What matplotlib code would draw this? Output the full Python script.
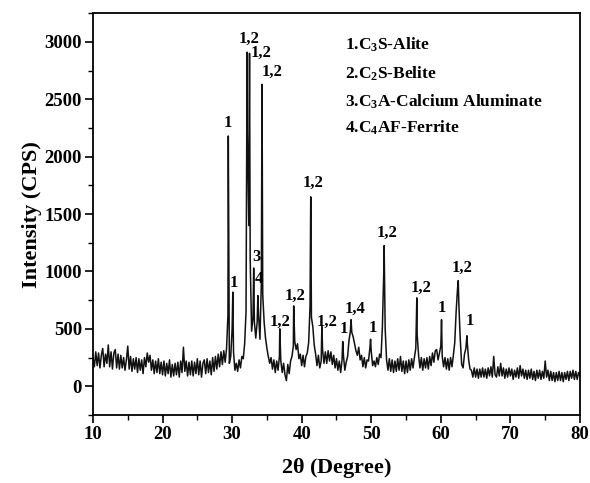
import numpy as np
import matplotlib
matplotlib.use("Agg")
from matplotlib import pyplot as plt
from matplotlib.ticker import MultipleLocator

# background counts, one value every 0.2 deg from 10 to 80
bg_start = 10.0
bg_step = 0.2
background = [
    250, 170, 300, 180, 290, 160, 270, 330, 170, 280,   # 10
    200, 360, 170, 300, 150, 290, 320, 160, 280, 150,   # 12
    270, 160, 250, 140, 230, 350, 150, 260, 130, 240,   # 14
    150, 250, 120, 240, 140, 230, 110, 250, 170, 290,   # 16
    210, 270, 140, 230, 110, 220, 120, 240, 110, 210,   # 18
    100, 220, 90, 200, 110, 230, 80, 190, 90, 200,      # 20
    100, 210, 80, 220, 120, 340, 130, 220, 90, 210,     # 22
    100, 220, 90, 210, 110, 240, 100, 220, 80, 200,     # 24
    230, 110, 240, 120, 220, 100, 250, 130, 260, 150,   # 26
    280, 170, 300, 190, 310, 210, 330, 620, 200, 260,   # 28
    500, 300, 140, 200, 130, 230, 160, 260, 240, 370,   # 30
    650, 2200, 1400, 1100, 480, 600, 560, 420, 560, 620,  # 32
    410, 900, 800, 560, 420, 330, 260, 200, 250, 150,   # 34
    230, 120, 220, 140, 260, 220, 120, 200, 100, 50,    # 36
    190, 110, 220, 260, 350, 390, 320, 370, 240, 280,   # 38
    180, 270, 170, 260, 290, 380, 700, 600, 520, 360,   # 40
    280, 180, 270, 160, 220, 320, 200, 300, 200, 310,   # 42
    220, 300, 190, 270, 160, 240, 140, 220, 120, 230,   # 44
    270, 140, 210, 260, 400, 480, 470, 430, 370, 310,   # 46
    270, 340, 230, 270, 170, 250, 160, 230, 220, 330,   # 48
    300, 180, 220, 170, 250, 190, 280, 250, 520, 1000,  # 50
    500, 230, 140, 240, 130, 230, 120, 220, 130, 240,   # 52
    140, 260, 130, 220, 110, 220, 120, 230, 140, 240,   # 54
    160, 250, 330, 450, 270, 160, 250, 140, 240, 160,   # 56
    250, 150, 260, 180, 290, 210, 310, 320, 230, 290,   # 58
    350, 260, 170, 250, 150, 240, 140, 250, 170, 270,   # 60
    380, 650, 850, 700, 400, 190, 160, 280, 330, 380,   # 62
    230, 150, 140, 80, 160, 80, 150, 70, 150, 80,       # 64
    160, 80, 150, 70, 160, 90, 170, 80, 260, 100,       # 66
    80, 170, 90, 200, 90, 160, 70, 150, 80, 160,        # 68
    90, 150, 60, 140, 80, 160, 70, 180, 90, 150,        # 70
    70, 140, 60, 140, 70, 150, 60, 130, 50, 140,        # 72
    70, 140, 60, 130, 70, 220, 80, 140, 50, 130,        # 74
    50, 120, 40, 120, 50, 130, 50, 120, 40, 120,        # 76
    60, 130, 50, 130, 70, 140, 60, 130, 60, 120,        # 78
    90,                                                 # 80
]

# peak tops
peak_2theta = [29.45, 30.1, 32.15, 32.5, 33.1, 33.7, 34.3, 36.85, 38.85, 41.3,
               42.9, 45.9, 47.1, 49.9, 51.85, 56.55, 60.1, 62.5, 63.75]
peak_cps = [2180, 820, 2910, 2900, 1030, 790, 2630, 500, 700, 1650,
            520, 390, 580, 410, 1225, 770, 580, 920, 440]

# phase labels: text, x, y
label_text = ['1', '1', '1,2', '1,2', '1,2', '3', '4', '1,2', '1,2', '1,2',
              '1,2', '1', '1,4', '1', '1,2', '1,2', '1', '1,2', '1']
label_x = [29.4, 30.2, 32.4, 34.1, 35.7, 33.5, 33.8, 36.9, 39.0, 41.65,
           43.6, 46.1, 47.7, 50.2, 52.3, 57.2, 60.2, 63.0, 64.2]
label_y = [2290, 900, 3030, 2900, 2735, 1130, 935, 565, 785, 1770,
           565, 495, 670, 510, 1335, 855, 685, 1030, 565]

legend_lines = [r'1.C$_3$S-Alite', r'2.C$_2$S-Belite',
                r'3.C$_3$A-Calcium Aluminate', r'4.C$_4$AF-Ferrite']
legend_y = [2970, 2725, 2475, 2250]

plt.rcParams['font.family'] = ['Liberation Serif', 'DejaVu Serif']
plt.rcParams['font.weight'] = 'bold'
plt.rcParams['mathtext.default'] = 'regular'

bg_x = bg_start + bg_step * np.arange(len(background))
x = np.concatenate([bg_x, peak_2theta])
y = np.concatenate([background, peak_cps])
order = np.argsort(x, kind='stable')

fig = plt.figure(figsize=(5.9, 4.83), dpi=100)
ax = fig.add_axes([0.1576, 0.1408, 0.8254, 0.832])
ax.plot(x[order], y[order], color='#111111', lw=1.1)

for t, lx, ly in zip(label_text, label_x, label_y):
    ax.text(lx, ly, t, ha='center', va='center', fontsize=12, fontweight='bold')

for t, ly in zip(legend_lines, legend_y):
    ax.text(46.2, ly, t, ha='left', va='center', fontsize=12.5, fontweight='bold')

ax.set_xlim(10, 80)
ax.set_ylim(-250, 3250)
ax.xaxis.set_major_locator(MultipleLocator(10))
ax.xaxis.set_minor_locator(MultipleLocator(5))
ax.yaxis.set_major_locator(MultipleLocator(500))
ax.yaxis.set_minor_locator(MultipleLocator(250))
ax.tick_params(which='major', direction='out', length=6, width=1.2, labelsize=13.5, pad=2)
ax.tick_params(which='minor', direction='out', length=3.5, width=1.0)
for s in ax.spines.values():
    s.set_linewidth(1.3)
for lab in ax.get_xticklabels() + ax.get_yticklabels():
    lab.set_fontweight('bold')

ax.set_xlabel(r'2$\theta$ (Degree)', fontsize=16, fontweight='bold', labelpad=9)
ax.set_ylabel('Intensity (CPS)', fontsize=16, fontweight='bold', labelpad=2)

fig.savefig('out.png', dpi=100)
